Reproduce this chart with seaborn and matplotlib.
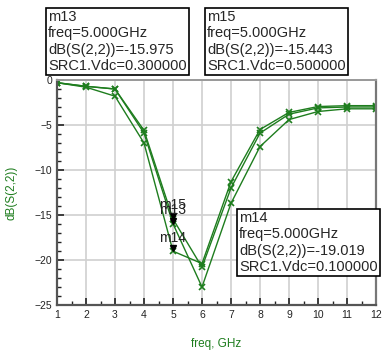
import numpy as np
import pandas as pd
import matplotlib
matplotlib.use("Agg")
import matplotlib.pyplot as plt
import seaborn as sns
from matplotlib.ticker import MultipleLocator

freq = [1, 2, 3, 4, 5, 6, 7, 8, 9, 10, 11, 12]
s22_vdc01 = [-0.3, -0.8, -1.8, -7.0, -19.019, -20.4, -11.3, -5.5, -3.6, -2.95, -2.85, -2.85]
s22_vdc03 = [-0.3, -0.7, -1.0, -5.9, -15.975, -23.0, -13.7, -7.4, -4.4, -3.5, -3.2, -3.2]
s22_vdc05 = [-0.3, -0.7, -1.0, -5.6, -15.443, -20.8, -12.0, -5.9, -3.8, -3.1, -3.0, -3.0]
vdc_labels = ["0.1", "0.3", "0.5"]

markers = {
    "m13": ("5.000GHz", -15.975, "0.300000"),
    "m15": ("5.000GHz", -15.443, "0.500000"),
    "m14": ("5.000GHz", -19.019, "0.100000"),
}

df = pd.DataFrame({
    "freq": freq * 3,
    "s22": s22_vdc01 + s22_vdc03 + s22_vdc05,
    "vdc": [vdc_labels[0]] * 12 + [vdc_labels[1]] * 12 + [vdc_labels[2]] * 12,
})

sns.set_style("white")
plt.rcParams["font.family"] = ["Liberation Sans", "DejaVu Sans"]

green = "#1e7d1e"
fig = plt.figure(figsize=(3.82, 3.52), dpi=100)
ax = fig.add_axes([57 / 382, 1 - 305 / 352, (376 - 57) / 382, (305 - 80) / 352])

sns.lineplot(data=df, x="freq", y="s22", hue="vdc", palette=[green] * 3,
             marker="x", markersize=4.5, markeredgewidth=1.2, markeredgecolor=green,
             linewidth=1.0, legend=False, ax=ax)

ax.set_xlim(1, 12)
ax.set_ylim(-25, 0)
ax.xaxis.set_major_locator(MultipleLocator(1))
ax.xaxis.set_minor_locator(MultipleLocator(0.5))
ax.yaxis.set_major_locator(MultipleLocator(5))
ax.yaxis.set_minor_locator(MultipleLocator(1))
ax.grid(True, which="major", color="#d0d0d0", linewidth=1.2)
ax.set_axisbelow(True)
ax.tick_params(which="both", direction="in", labelsize=7.5, colors="#222222")
ax.tick_params(which="major", length=5, width=1.2)
ax.tick_params(which="minor", length=3, width=1.0)
ax.tick_params(axis="y", which="both", right=False, left=True)
ax.tick_params(axis="x", which="both", top=False, bottom=True)
for sp in ["left", "bottom"]:
    ax.spines[sp].set_color("#555555")
    ax.spines[sp].set_linewidth(1.6)
ax.spines["right"].set_color("#777777")
ax.spines["right"].set_linewidth(1.6)
ax.spines["top"].set_color("#999999")
ax.spines["top"].set_linewidth(1.4)

ax.set_xlabel("freq, GHz", color=green, fontsize=8.5, labelpad=13)
ax.set_ylabel("dB(S(2,2))", color=green, fontsize=8.5, labelpad=12)

# marker triangles
for name, (f, val, v) in markers.items():
    ax.plot([5], [val + 0.35], marker="v", color="black", markersize=5, zorder=5)
ax.text(5, -14.7, "m15", fontsize=10, ha="center", va="bottom", color="#222222", zorder=6)
ax.text(5, -15.2, "m13", fontsize=10, ha="center", va="bottom", color="#222222", zorder=6)
ax.text(5, -18.3, "m14", fontsize=10, ha="center", va="bottom", color="#222222", zorder=6)

def box(x, y, name):
    f, val, v = markers[name]
    s = f"{name}\nfreq={f}\ndB(S(2,2))={val:.3f}\nSRC1.Vdc={v}"
    fig.text(x / 382, 1 - y / 352, s, fontsize=10.5, va="top", ha="left",
             linespacing=1.22,
             bbox=dict(boxstyle="square,pad=0.15", fc="white", ec="black", lw=1.2))

box(48, 10, "m13")
box(207, 10, "m15")
box(239, 211, "m14")

fig.savefig("out.png", dpi=100)
